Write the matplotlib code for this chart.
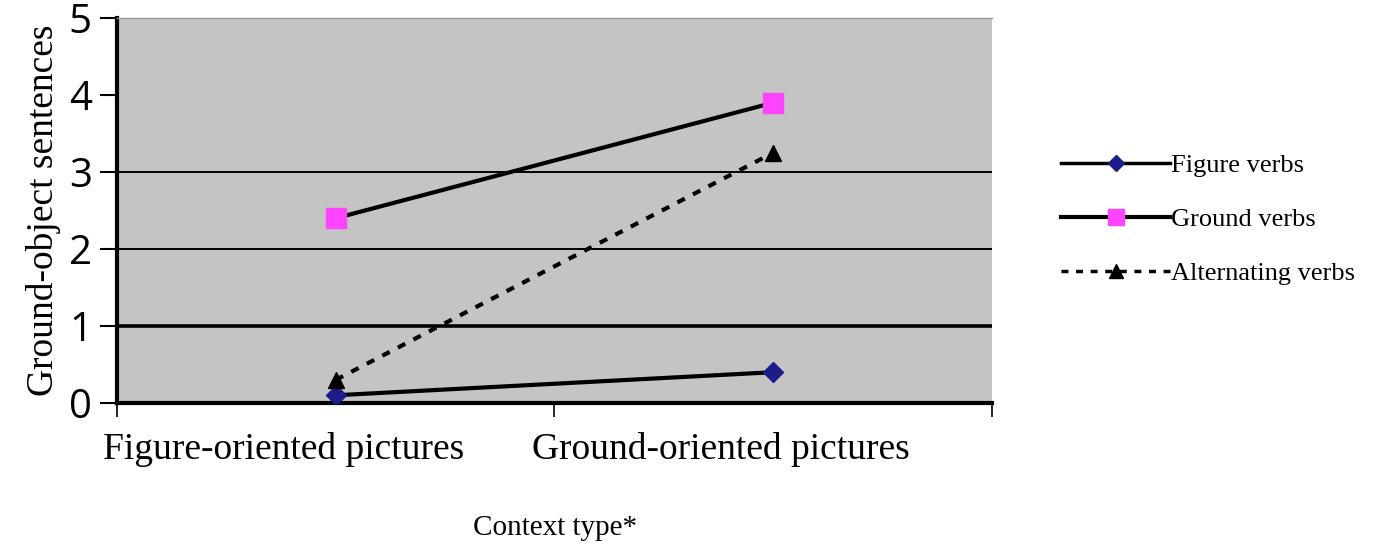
import matplotlib
matplotlib.use("Agg")
from matplotlib import pyplot as plt
from matplotlib.lines import Line2D

# data
contexts = ["Figure-oriented pictures", "Ground-oriented pictures"]
figure_verbs = [0.1, 0.4]
ground_verbs = [2.4, 3.9]
alternating_verbs = [0.3, 3.25]
series_names = ["Figure verbs", "Ground verbs", "Alternating verbs"]
y_ticks = [0, 1, 2, 3, 4, 5]

serif = ["Liberation Serif", "DejaVu Serif"]

fig = plt.figure(figsize=(13.91, 5.48), dpi=100)
ax = fig.add_axes([0.0841, 0.2646, 0.629, 0.7025])
ax.set_facecolor("#c4c4c4")

xs = list(range(len(contexts)))

# gridlines (only 1..3 show in the original)
for lvl, lw in zip(y_ticks[1:4], [2.6, 1.4, 1.4]):
    ax.axhline(lvl, color="black", lw=lw, zorder=1)

ax.plot(xs, figure_verbs, color="black", lw=3, zorder=3,
        marker="D", ms=10, mfc="#1c1c8a", mec="#1c1c8a")
ax.plot(xs, ground_verbs, color="black", lw=3, zorder=3,
        marker="s", ms=14, mfc="#ff44ff", mec="#ff44ff")
ax.plot(xs, alternating_verbs, color="black", lw=3, ls=(0, (2, 2.2)), zorder=3,
        marker="^", ms=12, mfc="black", mec="black")

ax.set_xlim(-0.5, len(contexts) - 0.5)
ax.set_ylim(0, 5)

ax.set_yticks(y_ticks)
ax.set_yticklabels([str(t) for t in y_ticks], fontsize=29, family=["Open Sans", "DejaVu Sans"])
ax.tick_params(axis="y", direction="out", length=12, width=1.5, pad=6)

ax.set_xticks([-0.5, 0.5, 1.5])
ax.set_xticklabels([])
ax.tick_params(axis="x", direction="out", length=10, width=1.2)
for x, lab in zip(xs, contexts):
    ax.text(x - 0.12, -0.38, lab, ha="center", va="top", fontsize=27,
            family=serif, transform=ax.transData)

for s in ["left", "bottom"]:
    ax.spines[s].set_linewidth(3)
    ax.spines[s].set_color("black")
ax.spines["right"].set_visible(False)
ax.spines["top"].set_color("#999999")
ax.spines["top"].set_linewidth(1)

ax.set_ylabel("Ground-object sentences", fontsize=27, family=serif, labelpad=6)
fig.text(0.399, 0.012, "Context type*", ha="center", va="bottom",
         fontsize=21, family=serif)

handles = [
    Line2D([], [], color="black", lw=2.5, marker="D", ms=8, mfc="#1c1c8a", mec="#1c1c8a"),
    Line2D([], [], color="black", lw=3, marker="s", ms=12, mfc="#ff44ff", mec="#ff44ff"),
    Line2D([], [], color="black", lw=2.5, ls=(0, (2, 2.2)), marker="^", ms=10,
           mfc="black", mec="black"),
]
fig.legend(handles, series_names, loc="center left", bbox_to_anchor=(0.746, 0.6),
           frameon=False, prop={"family": serif, "size": 19},
           handlelength=4.1, handletextpad=0.05, labelspacing=1.15)

fig.savefig("out.png", dpi=100, facecolor="white")
